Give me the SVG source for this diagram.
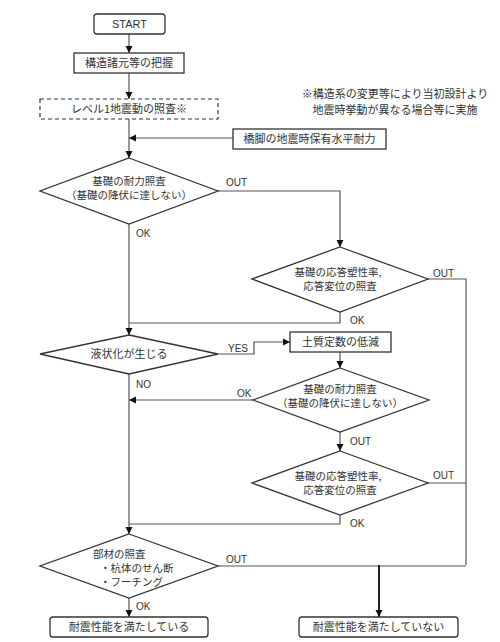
<svg xmlns="http://www.w3.org/2000/svg" width="500" height="642" viewBox="0 0 500 642">
<defs>
<marker id="ah" markerWidth="8" markerHeight="8" refX="7" refY="4" orient="auto" markerUnits="userSpaceOnUse">
<path d="M0,0.5 L7,4 L0,7.5 Z" fill="#111"/>
</marker>
<style>
.box{fill:#fff;stroke:#333;stroke-width:1.3}
.dash{fill:#fff;stroke:#333;stroke-width:1.2;stroke-dasharray:4,3}
.ln{fill:none;stroke:#555;stroke-width:1.2}
.thick{fill:none;stroke:#222;stroke-width:2}
.t{font-family:"Noto Sans CJK JP","Noto Sans",sans-serif;font-size:11px;fill:#333;text-anchor:middle}
.td{font-family:"Noto Sans CJK JP","Noto Sans",sans-serif;font-size:10.5px;fill:#333;text-anchor:middle}
.tl{font-family:"Noto Sans CJK JP","Noto Sans",sans-serif;font-size:10.5px;fill:#333}
.lb{font-family:"Liberation Sans","Noto Sans",sans-serif;font-size:10px;fill:#333}
.st{font-family:"Liberation Sans","Noto Sans",sans-serif;font-size:11px;fill:#333;text-anchor:middle}
</style>
</defs>
<rect width="500" height="642" fill="#fff"/>
<g id="connectors">
<path class="ln" d="M129,34 V53" marker-end="url(#ah)"/>
<path class="ln" d="M129,73 V99" marker-end="url(#ah)"/>
<path class="ln" d="M129,119 V158" marker-end="url(#ah)"/>
<path class="ln" d="M233,138 H129" marker-end="url(#ah)"/>
<path class="ln" d="M129,224 V335" marker-end="url(#ah)"/>
<path class="ln" d="M218,191 H340 V247" marker-end="url(#ah)"/>
<path class="ln" d="M340,312 V323 H129"/>
<path class="ln" d="M428,279 H466 V565"/>
<path class="ln" d="M218,354 H254 V342 H290" marker-end="url(#ah)"/>
<path class="ln" d="M340,352 V368" marker-end="url(#ah)"/>
<path class="ln" d="M253,400 H129" marker-end="url(#ah)"/>
<path class="ln" d="M340,432 V451" marker-end="url(#ah)"/>
<path class="ln" d="M428,483 H466"/>
<path class="ln" d="M340,515 V524 H129"/>
<path class="ln" d="M129,374 V534" marker-end="url(#ah)"/>
<path class="ln" d="M218,566 H466"/>
<path class="thick" d="M379,565 V617" marker-end="url(#ah)"/>
<path class="ln" d="M129,598 V617" marker-end="url(#ah)"/>
<text class="lb" x="226" y="186">OUT</text>
<text class="lb" x="136" y="237">OK</text>
<text class="lb" x="433" y="277">OUT</text>
<text class="lb" x="350" y="324">OK</text>
<text class="lb" x="228" y="352">YES</text>
<text class="lb" x="136" y="388">NO</text>
<text class="lb" x="237" y="397">OK</text>
<text class="lb" x="350" y="445">OUT</text>
<text class="lb" x="433" y="479">OUT</text>
<text class="lb" x="350" y="527">OK</text>
<text class="lb" x="226" y="563">OUT</text>
<text class="lb" x="136" y="610">OK</text>
</g>
<g id="start">
<rect class="box" x="94" y="14" width="71" height="20" rx="3"/>
<text class="st" x="129.5" y="28">START</text>
</g>
<g id="kozo">
<rect class="box" x="74" y="53" width="110" height="20"/>
<text class="t" x="129" y="67">構造諸元等の把握</text>
</g>
<g id="level1">
<rect class="dash" x="40" y="99" width="178" height="20"/>
<text class="t" x="129" y="113">レベル1地震動の照査※</text>
</g>
<g id="note">
<text class="t" x="395" y="98">※構造系の変更等により当初設計より</text>
<text class="t" x="395" y="114">地震時挙動が異なる場合等に実施</text>
</g>
<g id="kyakyaku">
<rect class="box" x="233" y="129" width="153" height="20"/>
<text class="t" x="309.5" y="143">橋脚の地震時保有水平耐力</text>
</g>
<g id="d1">
<polygon class="box" points="129,158 218,191 129,224 40,191"/>
<text class="td" x="129" y="185">基礎の耐力照査</text>
<text class="td" x="129" y="199">（基礎の降伏に達しない）</text>
</g>
<g id="d2">
<polygon class="box" points="340,247 428,279 340,312 252,279"/>
<text class="td" x="338" y="276">基礎の応答塑性率,</text>
<text class="td" x="340" y="290">応答変位の照査</text>
</g>
<g id="d3">
<polygon class="box" points="129,335 218,354 129,374 40,354"/>
<text class="t" x="129" y="358">液状化が生じる</text>
</g>
<g id="dosei">
<rect class="box" x="290" y="332" width="101" height="20"/>
<text class="t" x="340.5" y="346">土質定数の低減</text>
</g>
<g id="d4">
<polygon class="box" points="340,368 429,400 340,432 253,400"/>
<text class="td" x="340" y="393">基礎の耐力照査</text>
<text class="td" x="340" y="407">（基礎の降伏に達しない）</text>
</g>
<g id="d5">
<polygon class="box" points="340,451 428,483 340,515 252,483"/>
<text class="td" x="338" y="480">基礎の応答塑性率,</text>
<text class="td" x="340" y="494">応答変位の照査</text>
</g>
<g id="d6">
<polygon class="box" points="129,534 218,566 129,598 40,566"/>
<text class="tl" x="93" y="558">部材の照査</text>
<text class="tl" x="100" y="572">・杭体のせん断</text>
<text class="tl" x="100" y="586">・フーチング</text>
</g>
<g id="ok-end">
<rect class="box" x="50" y="617" width="158" height="20" rx="3"/>
<text class="t" x="129" y="631">耐震性能を満たしている</text>
</g>
<g id="ng-end">
<rect class="box" x="299" y="617" width="159" height="20" rx="3"/>
<text class="t" x="378.5" y="631">耐震性能を満たしていない</text>
</g>
</svg>
